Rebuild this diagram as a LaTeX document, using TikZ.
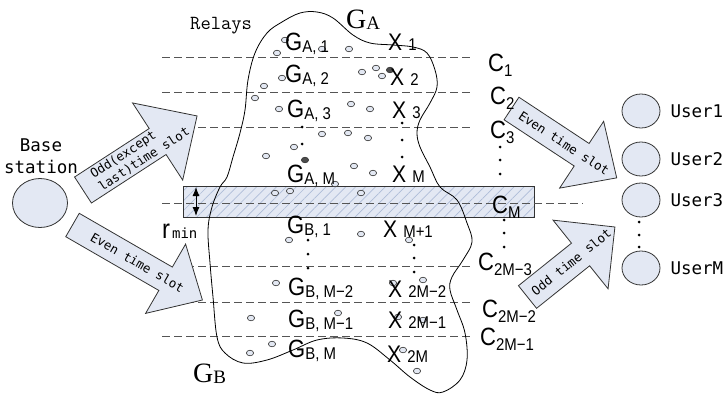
\documentclass[tikz,border=0pt]{standalone}
\usepackage{fontspec}
\newfontfamily\labelfont[FakeStretch=0.88]{Liberation Sans}
\newfontfamily\serifont{Liberation Serif}
\newfontfamily\monofont{DejaVu Sans Mono}
\usepackage{tikz}
\usetikzlibrary{arrows.meta,positioning,shapes.geometric,patterns.meta}

\definecolor{paleblue}{HTML}{E3E8F3}
\definecolor{hatchblue}{HTML}{AEBCD8}
\definecolor{dashgray}{HTML}{555555}
\definecolor{edgegray}{HTML}{333333}

% relay / channel labels
\newcommand{\gl}[2]{{\fontsize{25}{25}\selectfont #1}\raisebox{-2pt}{\fontsize{17}{17}\selectfont #2}}
\newcommand{\xl}[1]{{\fontsize{24}{24}\selectfont X}\hspace{6pt}{\fontsize{17}{17}\selectfont #1}}
\newcommand{\cl}[1]{{\fontsize{25}{25}\selectfont C}\raisebox{-5pt}{\fontsize{17}{17}\selectfont #1}}

% block arrow: name, tail, angle, length, shaft half width, head half width, head length, text
\newcommand{\slotarrow}[8]{%
  \begin{scope}[shift={#2}, rotate=#3]
    \draw[slotshape] (0,-#5) -- ({#4-#7},-#5) -- ({#4-#7},-#6) -- (#4,0)
      -- ({#4-#7},#6) -- ({#4-#7},#5) -- (0,#5) -- cycle;
    \node[slottext, transform shape] (#1) at ({#4/2},0) {#8};
  \end{scope}}

\begin{document}
\begin{tikzpicture}[x=1pt, y=-1pt,
  lab/.style={anchor=base west, inner sep=0pt, font=\labelfont},
  station/.style={ellipse, draw=edgegray, fill=paleblue, line width=0.8pt, inner sep=0pt},
  captxt/.style={inner sep=0pt, font=\monofont\fontsize{17.5}{22}\selectfont},
  slotshape/.style={draw=edgegray, fill=paleblue, line width=0.8pt},
  slottext/.style={inner sep=0pt, align=left, font=\monofont\fontsize{12.5}{15}\selectfont},
  relay/.style={draw=edgegray, fill=paleblue, line width=0.6pt},
  darkrelay/.style={draw=edgegray, fill=black!70, line width=0.6pt},
  level/.style={dashgray, dash pattern=on 8pt off 4pt, line width=0.9pt},
  band/.style={draw=edgegray, line width=0.8pt, preaction={fill=paleblue},
    pattern={Lines[angle=45,distance=7pt,line width=0.7pt]}, pattern color=hatchblue},
  tip/.style={{Latex[length=9pt,width=7pt]}-{Latex[length=9pt,width=7pt]}, line width=1pt}
]
\useasboundingbox (0,0) rectangle (725,394);

% r_min band
\draw[band] (183,186) rectangle (534,217);

% channel levels
\foreach \y in {57,92,127,266,302,336}
  \draw[level] (162,\y) -- (472,\y);
\draw[level] (162,203) -- (583,203);

% relay region
\draw[line width=0.8pt] plot[smooth cycle, tension=0.6] coordinates {
  (248,80) (255,53) (267,33) (282,22) (300,13) (317,12) (333,18) (353,35)
  (370,43) (393,45) (413,47) (427,53) (435,70) (437,87) (430,103) (420,120)
  (417,133) (420,147) (430,167) (440,187) (457,200) (467,223) (472,242)
  (463,260) (452,277) (450,290) (457,310) (465,333) (467,360) (460,380)
  (443,392) (430,390) (410,377) (390,360) (367,343) (343,338) (317,340)
  (293,350) (267,360) (243,363) (225,353) (217,337) (213,297) (210,263)
  (208,230) (212,207) (220,187) (227,177) (233,157) (240,133) (245,110)};

% relays
\foreach \p in {(285,40),(322,49),(349,49),(277,53),(362,72),(376,68),(382,76),
  (282,78),(264,86),(255,98),(279,109),(351,104),(370,109),(322,134),(348,133),
  (368,138),(294,147),(266,156),(354,166),(373,173),(335,184),(275,193),
  (290,191),(361,193),(289,240),(361,234),(409,240),(423,280),(276,283),
  (393,283),(251,318),(338,313),(398,317),(423,320),(272,344),(250,353),
  (403,350),(417,371)}
  \draw[relay] \p ellipse[x radius=3.6pt, y radius=2.8pt];
\draw[darkrelay] (390,70) ellipse[x radius=3.6pt, y radius=2.8pt];
\draw[darkrelay] (305,160) ellipse[x radius=3.6pt, y radius=2.8pt];

% vertical dots
\foreach \y in {127,144} \fill (302,\y) circle[radius=1.5pt];
\foreach \y in {123,140,157} \fill (402,\y) circle[radius=1.5pt];
\foreach \y in {147,160,174} \fill (500,\y) circle[radius=1.5pt];
\foreach \y in {220,233,247} \fill (504,\y) circle[radius=1.5pt];
\foreach \y in {240,254,268} \fill (308,\y) circle[radius=1.5pt];
\foreach \y in {245,258,272} \fill (414,\y) circle[radius=1.5pt];
\foreach \y in {222,235,247} \fill (639,\y) circle[radius=1.5pt];

% time slot arrows
\slotarrow{oddin}{(83,190)}{33}{136}{15.5}{46}{47}{Odd(except\\last)time slot}
\slotarrow{evenin}{(72.5,225)}{-30}{150}{13.5}{40}{42.5}{Even time slot}
\slotarrow{evenout}{(511.5,108.5)}{-33.4}{126}{13.5}{40}{42}{Even time slot}
\slotarrow{oddout}{(527.5,297)}{38.7}{112}{14.5}{44}{44}{Odd time slot}

% base station and users
\node[station, minimum width=55pt, minimum height=49pt] (base) at (40,203) {};
\node[captxt, align=center] (basetxt) at (41,156) {Base\\station};

\node[station, minimum width=38pt, minimum height=34pt] (user1) at (641,111) {};
\node[station, minimum width=38pt, minimum height=34pt] (user2) at (641,159) {};
\node[station, minimum width=38pt, minimum height=34pt] (user3) at (641,200) {};
\node[station, minimum width=38pt, minimum height=34pt] (userM) at (641,268) {};
\node[captxt, right=10pt of user1] (u1txt) {User1};
\node[captxt, right=10pt of user2] (u2txt) {User2};
\node[captxt, right=10pt of user3] (u3txt) {User3};
\node[captxt, right=10pt of userM] (uMtxt) {UserM};

% group labels
\node[inner sep=0pt, anchor=base west, font=\ttfamily\fontsize{20}{20}\selectfont] (relays) at (190,29) {Relays};
\node[inner sep=0pt, anchor=base west, font=\serifont] (ga) at (346,28)
  {{\fontsize{28}{28}\selectfont G}\raisebox{-1pt}{\fontsize{19}{19}\selectfont A}};
\node[inner sep=0pt, anchor=base west, font=\serifont] (gb) at (193,382)
  {{\fontsize{28}{28}\selectfont G}\raisebox{-1pt}{\fontsize{19}{19}\selectfont B}};

% subgroup labels
\node[lab] (ga1) at (285,50) {\gl{G}{A, 1}};
\node[lab] (ga2) at (285,82) {\gl{G}{A, 2}};
\node[lab] (ga3) at (287,117) {\gl{G}{A, 3}};
\node[lab] (gaM) at (287,182) {\gl{G}{A, M}};
\node[lab] (gb1) at (287,233) {\gl{G}{B, 1}};
\node[lab] (gbM2) at (288,295) {\gl{G}{B, M−2}};
\node[lab] (gbM1) at (288,327) {\gl{G}{B, M−1}};
\node[lab] (gbM) at (288,357) {\gl{G}{B, M}};

\node[lab] (x1) at (388,50) {\xl{1}};
\node[lab] (x2) at (390,85) {\xl{2}};
\node[lab] (x3) at (392,118) {\xl{3}};
\node[lab] (xM) at (392,182) {\xl{M}};
\node[lab] (xM1) at (383,237) {\xl{M+1}};
\node[lab] (x2M2) at (388,297) {\xl{2M−2}};
\node[lab] (x2M1) at (388,328) {\xl{2M−1}};
\node[lab] (x2M) at (387,362) {\xl{2M}};

% channel labels
\node[lab] (c1) at (488,71) {\cl{1}};
\node[lab] (c2) at (490,104) {\cl{2}};
\node[lab] (c3) at (490,138) {\cl{3}};
\node[lab] (cM) at (492,213) {\cl{M}};
\node[lab] (c2M3) at (478,270) {\cl{2M−3}};
\node[lab] (c2M2) at (482,317) {\cl{2M−2}};
\node[lab] (c2M1) at (480,345) {\cl{2M−1}};

% minimum distance
\coordinate (rtop) at (196,187);
\coordinate (rbot) at (196,216);
\draw[tip] (rtop) -- (rbot);
\node[lab] (rmin) at (162,238)
  {{\fontsize{27}{27}\selectfont r}\hspace{2pt}{\monofont\fontsize{14}{14}\selectfont min}};
\end{tikzpicture}
\end{document}
